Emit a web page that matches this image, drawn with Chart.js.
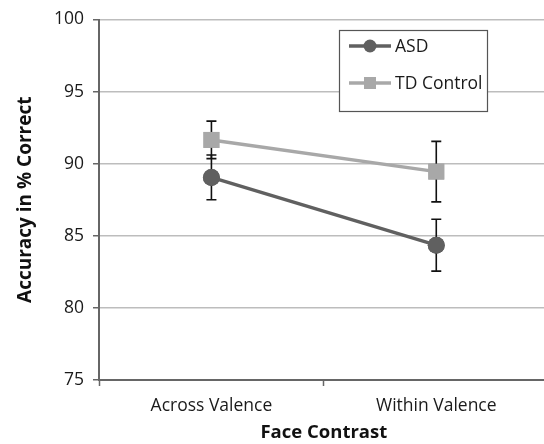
<!DOCTYPE html>
<html>
<head>
<meta charset="utf-8">
<script src="https://cdn.jsdelivr.net/npm/chart.js@4"></script>
<style>
  html, body { margin: 0; padding: 0; background: #fff; overflow: hidden; }
  #wrap { width: 544px; height: 444px; overflow: hidden; }
</style>
</head>
<body>
<div id="wrap"><canvas id="chart1" width="560" height="444"></canvas></div>
<script>
const categories = ['Across Valence', 'Within Valence'];
const asdValues = [89.05, 84.35];
const asdErrors = [1.55, 1.8];
const tdValues = [91.65, 89.45];
const tdErrors = [1.3, 2.1];
const yTicks = [75, 80, 85, 90, 95, 100];
const seriesNames = ['ASD', 'TD Control'];

const fontFamily = '"Open Sans", Lato, sans-serif';

// error bars with caps
const errorBars = {
  id: 'errorBars',
  afterDatasetsDraw(chart) {
    const ctx = chart.ctx;
    const y = chart.scales.y;
    const errs = [asdErrors, tdErrors];
    ctx.save();
    ctx.strokeStyle = '#111';
    ctx.lineWidth = 1.6;
    chart.data.datasets.forEach((ds, i) => {
      const meta = chart.getDatasetMeta(i);
      meta.data.forEach((pt, j) => {
        const v = ds.data[j];
        const top = y.getPixelForValue(v + errs[i][j]);
        const bot = y.getPixelForValue(v - errs[i][j]);
        ctx.beginPath();
        ctx.moveTo(pt.x, top); ctx.lineTo(pt.x, bot);
        ctx.moveTo(pt.x - 5, top); ctx.lineTo(pt.x + 5, top);
        ctx.moveTo(pt.x - 5, bot); ctx.lineTo(pt.x + 5, bot);
        ctx.stroke();
      });
    });
    ctx.restore();
  }
};

// redraw points on top of the error bars
const pointsOnTop = {
  id: 'pointsOnTop',
  afterDraw(chart) {
    const ctx = chart.ctx;
    for (let i = chart.data.datasets.length - 1; i >= 0; i--) {
      chart.getDatasetMeta(i).data.forEach(p => p.draw(ctx, chart.chartArea));
    }
  }
};

const boxLegend = {
  id: 'boxLegend',
  afterDraw(chart) {
    const ctx = chart.ctx;
    const bx = 339, by = 30, bw = 148, bh = 81;
    ctx.save();
    ctx.fillStyle = '#fff';
    ctx.fillRect(bx, by, bw, bh);
    ctx.strokeStyle = '#555';
    ctx.lineWidth = 1.2;
    ctx.strokeRect(bx + 0.5, by + 0.5, bw, bh);
    chart.data.datasets.forEach((ds, i) => {
      const ly = by + (i === 0 ? 16 : 53);
      ctx.strokeStyle = ds.borderColor;
      ctx.lineWidth = 3.5;
      ctx.beginPath();
      ctx.moveTo(349, ly); ctx.lineTo(391, ly);
      ctx.stroke();
      ctx.fillStyle = ds.backgroundColor;
      ctx.beginPath();
      if (i === 0) {
        ctx.arc(370, ly, 6.5, 0, Math.PI * 2);
      } else {
        ctx.rect(364, ly - 6, 12, 12);
      }
      ctx.fill();
      ctx.fillStyle = '#1a1a1a';
      ctx.font = '17.5px ' + fontFamily;
      ctx.textBaseline = 'middle';
      ctx.fillText(seriesNames[i], 395, ly + 1);
    });
    ctx.restore();
  }
};

const ctx = document.getElementById('chart1').getContext('2d');
const myChart = new Chart(ctx, {
  type: 'line',
  data: {
    labels: categories,
    datasets: [{
      label: seriesNames[0],
      data: asdValues,
      borderColor: '#606060',
      backgroundColor: '#606060',
      borderWidth: 3.5,
      pointStyle: 'circle',
      pointRadius: 8.5,
      pointBorderWidth: 0,
      pointHoverRadius: 8.5
    }, {
      label: seriesNames[1],
      data: tdValues,
      borderColor: '#a8a8a8',
      backgroundColor: '#a8a8a8',
      borderWidth: 3.5,
      pointStyle: 'rect',
      pointRadius: 11.3,
      pointBorderWidth: 0,
      pointHoverRadius: 11.3
    }]
  },
  options: {
    responsive: false,
    animation: false,
    events: [],
    layout: { padding: { top: 18, right: 0, left: 0, bottom: 0 } },
    plugins: {
      legend: { display: false },
      tooltip: { enabled: false }
    },
    scales: {
      x: {
        offset: true,
        grid: {
          offset: true,
          drawOnChartArea: false,
          tickLength: 6,
          tickColor: '#666',
          tickWidth: 1.5
        },
        border: { color: '#666', width: 2 },
        ticks: {
          color: '#1a1a1a',
          font: { family: fontFamily, size: 17.5 },
          padding: 10,
          maxRotation: 0
        },
        title: {
          display: true,
          text: 'Face Contrast',
          color: '#111',
          font: { family: fontFamily, size: 18.5, weight: 'bold' },
          padding: { top: 0, bottom: 0 }
        },
        afterFit(scale) { scale.height = 64; }
      },
      y: {
        min: 75,
        max: 100,
        afterBuildTicks(scale) { scale.ticks = yTicks.map(v => ({ value: v })); },
        grid: {
          color: '#bdbdbd',
          lineWidth: 1.5,
          tickLength: 6,
          tickColor: '#666',
          tickWidth: 1.5
        },
        border: { color: '#666', width: 2 },
        ticks: {
          color: '#1a1a1a',
          font: { family: fontFamily, size: 17.5 },
          padding: 9
        },
        title: {
          display: true,
          text: 'Accuracy in % Correct',
          color: '#111',
          font: { family: fontFamily, size: 19, weight: 'bold' },
          padding: { top: 14, bottom: 6 }
        },
        afterFit(scale) { scale.width = 99; }
      }
    }
  },
  plugins: [errorBars, pointsOnTop, boxLegend]
});
</script>
</body>
</html>
